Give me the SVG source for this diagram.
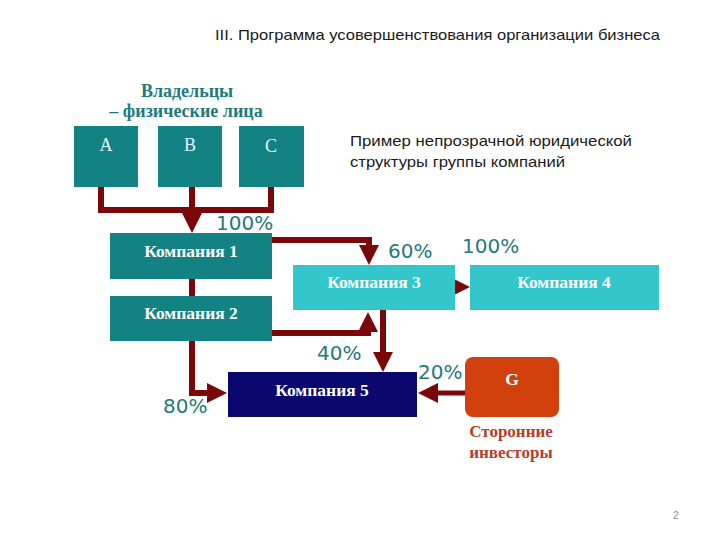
<svg xmlns="http://www.w3.org/2000/svg" width="720" height="540" viewBox="0 0 720 540">
<style>
.bg{fill:#ffffff}
.dark{fill:#128282}
.light{fill:#33c6ca}
.navy{fill:#08086e}
.ext{fill:#d2400e}
.box{font-family:"Liberation Serif","Times New Roman",serif;font-weight:bold;font-size:17.5px;fill:#ffffff;text-anchor:middle}
.own{font-family:"Liberation Serif","Times New Roman",serif;font-size:18px;fill:#e6f6f6;text-anchor:middle}
.pct{font-family:"DejaVu Sans","Verdana",sans-serif;font-size:20px;fill:#237a7a}
.head{font-family:"Liberation Serif","Times New Roman",serif;font-weight:bold;font-size:18px;fill:#1e7a7a;text-anchor:middle}
.inv{font-family:"Liberation Serif","Times New Roman",serif;font-weight:bold;font-size:17px;fill:#b0402a;text-anchor:middle}
.t{font-family:"Liberation Sans","Arial",sans-serif;font-size:15px;fill:#1a1a1a}
.conn{fill:none;stroke:#7a0808;stroke-width:6;stroke-linejoin:miter}
</style>
<defs>
<marker id="ah" markerUnits="userSpaceOnUse" markerWidth="20" markerHeight="20" viewBox="0 0 20 20" refX="4" refY="10" orient="auto">
<path d="M0,0 L20,10 L0,20 z" fill="#7a0808"/>
</marker>
</defs>
<rect class="bg" x="0" y="0" width="720" height="540"/>

<text class="t" x="215" y="40" textLength="445" lengthAdjust="spacingAndGlyphs">III. Программа усовершенствования организации бизнеса</text>
<text class="t" x="350" y="146" textLength="282" lengthAdjust="spacingAndGlyphs">Пример непрозрачной юридической</text>
<text class="t" x="350" y="167" textLength="215" lengthAdjust="spacingAndGlyphs">структуры группы компаний</text>

<g id="owners-label">
<text class="head" x="187" y="97">Владельцы</text>
<text class="head" x="186" y="117">– физические лица</text>
</g>

<g id="connectors">
<path class="conn" d="M101,187 V210 H271 V187"/>
<path class="conn" d="M192,187 V217" marker-end="url(#ah)"/>
<path class="conn" d="M272,240 H369 V249" marker-end="url(#ah)"/>
<path class="conn" d="M192,279 V296"/>
<path class="conn" d="M449,287 H454" marker-end="url(#ah)"/>
<path class="conn" d="M272,333 H368 V328" marker-end="url(#ah)"/>
<path class="conn" d="M383,310 V356" marker-end="url(#ah)"/>
<path class="conn" d="M192,341 V393 H211" marker-end="url(#ah)"/>
<path class="conn" style="stroke-width:5" d="M465,393 H434" marker-end="url(#ah)"/>
</g>

<g id="A"><rect class="dark" x="74" y="126" width="64" height="61"/><text class="own" x="106" y="151">A</text></g>
<g id="B"><rect class="dark" x="158" y="126" width="64" height="61"/><text class="own" x="190" y="151">B</text></g>
<g id="C"><rect class="dark" x="239" y="126" width="65" height="61"/><text class="own" x="271" y="152">C</text></g>

<g id="k1"><rect class="dark" x="110" y="233" width="162" height="46"/><text class="box" x="191" y="257">Компания 1</text></g>
<g id="k2"><rect class="dark" x="110" y="296" width="162" height="45"/><text class="box" x="191" y="319">Компания 2</text></g>
<g id="k3"><rect class="light" x="293" y="265" width="162" height="45"/><text class="box" x="374" y="288">Компания 3</text></g>
<g id="k4"><rect class="light" x="470" y="265" width="189" height="45"/><text class="box" x="564" y="288">Компания 4</text></g>
<g id="k5"><rect class="navy" x="228" y="372" width="189" height="45"/><text class="box" x="322" y="396">Компания 5</text></g>
<g id="g"><rect class="ext" x="465" y="357" width="94" height="60" rx="8"/><text class="box" x="512" y="385">G</text></g>

<g id="investors-label">
<text class="inv" x="511" y="437">Сторонние</text>
<text class="inv" x="511" y="458">инвесторы</text>
</g>

<g id="percent-labels">
<text class="pct" x="216" y="230">100%</text>
<text class="pct" x="388" y="258">60%</text>
<text class="pct" x="462" y="253">100%</text>
<text class="pct" x="317" y="360">40%</text>
<text class="pct" x="418" y="379">20%</text>
<text class="pct" x="163" y="413">80%</text>
</g>

<text x="673" y="519" style="font-family:'Liberation Sans',Arial,sans-serif;font-size:10px;fill:#8a8a8a">2</text>
</svg>
